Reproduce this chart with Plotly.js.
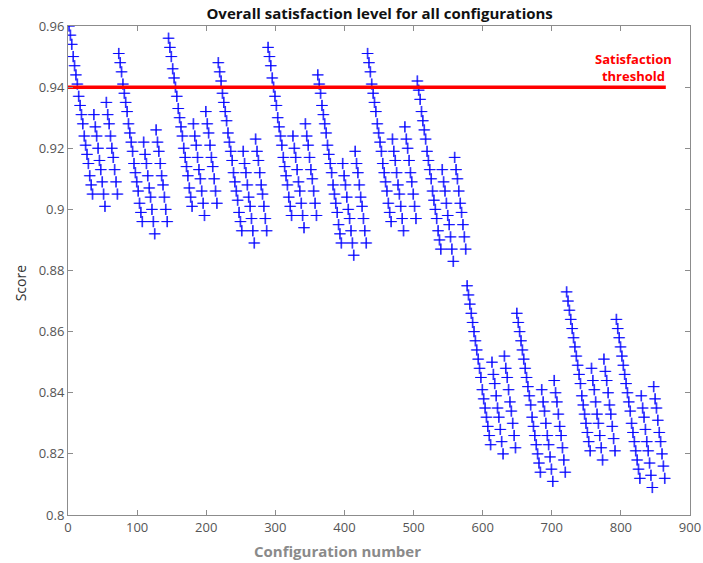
<!DOCTYPE html>
<html>
<head>
<meta charset="utf-8">
<script src="https://cdn.plot.ly/plotly-3.0.1.min.js"></script>
<style>html,body{margin:0;padding:0;background:#fff;}#chart{width:703px;height:563px;}</style>
</head>
<body>
<div id="chart"></div>
<script>
// Scores per group of 72 configurations
const group01 = [0.960,0.960,0.957,0.957,0.954,0.954,0.950,0.950,0.947,0.947,0.944,0.944,0.941,0.941,0.937,0.937,0.934,0.934,0.931,0.931,0.928,0.928,0.924,0.924,0.921,0.921,0.918,0.918,0.915,0.915,0.911,0.911,0.908,0.908,0.905,0.905,
 0.931,0.931,0.927,0.927,0.924,0.924,0.920,0.920,0.916,0.916,0.913,0.913,0.909,0.909,0.905,0.905,0.901,0.901,
 0.935,0.935,0.931,0.931,0.928,0.928,0.924,0.924,0.920,0.920,0.917,0.917,0.913,0.913,0.909,0.909,0.905,0.905];
const group02 = [0.951,0.951,0.948,0.948,0.945,0.945,0.941,0.941,0.938,0.938,0.935,0.935,0.932,0.932,0.928,0.928,0.925,0.925,0.922,0.922,0.919,0.919,0.915,0.915,0.912,0.912,0.909,0.909,0.906,0.906,0.902,0.902,0.899,0.899,0.896,0.896,
 0.922,0.922,0.918,0.918,0.915,0.915,0.911,0.911,0.907,0.907,0.904,0.904,0.900,0.900,0.896,0.896,0.892,0.892,
 0.926,0.926,0.922,0.922,0.919,0.919,0.915,0.915,0.911,0.911,0.908,0.908,0.904,0.904,0.900,0.900,0.896,0.896];
const group03 = [0.956,0.956,0.953,0.953,0.950,0.950,0.946,0.946,0.943,0.943,0.940,0.940,0.937,0.937,0.933,0.933,0.930,0.930,0.927,0.927,0.924,0.924,0.920,0.920,0.917,0.917,0.914,0.914,0.911,0.911,0.907,0.907,0.904,0.904,0.901,0.901,
 0.928,0.928,0.924,0.924,0.921,0.921,0.917,0.917,0.913,0.913,0.910,0.910,0.906,0.906,0.902,0.902,0.898,0.898,
 0.932,0.932,0.928,0.928,0.925,0.925,0.921,0.921,0.917,0.917,0.914,0.914,0.910,0.910,0.906,0.906,0.902,0.902];
const group04 = [0.948,0.948,0.945,0.945,0.942,0.942,0.938,0.938,0.935,0.935,0.932,0.932,0.929,0.929,0.925,0.925,0.922,0.922,0.919,0.919,0.916,0.916,0.912,0.912,0.909,0.909,0.906,0.906,0.903,0.903,0.899,0.899,0.896,0.896,0.893,0.893,
 0.919,0.919,0.915,0.915,0.912,0.912,0.908,0.908,0.904,0.904,0.901,0.901,0.897,0.897,0.893,0.893,0.889,0.889,
 0.923,0.923,0.919,0.919,0.916,0.916,0.912,0.912,0.908,0.908,0.905,0.905,0.901,0.901,0.897,0.897,0.893,0.893];
const group05 = [0.953,0.953,0.950,0.950,0.947,0.947,0.943,0.943,0.940,0.940,0.937,0.937,0.934,0.934,0.930,0.930,0.927,0.927,0.924,0.924,0.921,0.921,0.917,0.917,0.914,0.914,0.911,0.911,0.908,0.908,0.904,0.904,0.901,0.901,0.898,0.898,
 0.924,0.924,0.920,0.920,0.917,0.917,0.913,0.913,0.909,0.909,0.906,0.906,0.902,0.902,0.898,0.898,0.894,0.894,
 0.928,0.928,0.924,0.924,0.921,0.921,0.917,0.917,0.913,0.913,0.910,0.910,0.906,0.906,0.902,0.902,0.898,0.898];
const group06 = [0.944,0.944,0.941,0.941,0.938,0.938,0.934,0.934,0.931,0.931,0.928,0.928,0.925,0.925,0.921,0.921,0.918,0.918,0.915,0.915,0.912,0.912,0.908,0.908,0.905,0.905,0.902,0.902,0.899,0.899,0.895,0.895,0.892,0.892,0.889,0.889,
 0.915,0.915,0.911,0.911,0.908,0.908,0.904,0.904,0.900,0.900,0.897,0.897,0.893,0.893,0.889,0.889,0.885,0.885,
 0.919,0.919,0.915,0.915,0.912,0.912,0.908,0.908,0.904,0.904,0.901,0.901,0.897,0.897,0.893,0.893,0.889,0.889];
const group07 = [0.951,0.951,0.948,0.948,0.945,0.945,0.941,0.941,0.938,0.938,0.935,0.935,0.932,0.932,0.928,0.928,0.925,0.925,0.922,0.922,0.919,0.919,0.915,0.915,0.912,0.912,0.909,0.909,0.906,0.906,0.902,0.902,0.899,0.899,0.896,0.896,
 0.923,0.923,0.919,0.919,0.916,0.916,0.912,0.912,0.908,0.908,0.905,0.905,0.901,0.901,0.897,0.897,0.893,0.893,
 0.927,0.927,0.923,0.923,0.920,0.920,0.916,0.916,0.912,0.912,0.909,0.909,0.905,0.905,0.901,0.901,0.897,0.897];
const group08 = [0.942,0.942,0.939,0.939,0.936,0.936,0.932,0.932,0.929,0.929,0.926,0.926,0.923,0.923,0.919,0.919,0.916,0.916,0.913,0.913,0.910,0.910,0.906,0.906,0.903,0.903,0.900,0.900,0.897,0.897,0.893,0.893,0.890,0.890,0.887,0.887,
 0.913,0.913,0.909,0.909,0.906,0.906,0.902,0.902,0.898,0.898,0.895,0.895,0.891,0.891,0.887,0.887,0.883,0.883,
 0.917,0.917,0.913,0.913,0.910,0.910,0.906,0.906,0.902,0.902,0.899,0.899,0.895,0.895,0.891,0.891,0.887,0.887];
const group09 = [0.875,0.875,0.872,0.872,0.869,0.869,0.866,0.866,0.863,0.863,0.860,0.860,0.857,0.857,0.854,0.854,0.851,0.851,0.848,0.848,0.845,0.845,0.841,0.841,0.838,0.838,0.835,0.835,0.832,0.832,0.829,0.829,0.826,0.826,0.823,0.823,
 0.850,0.850,0.846,0.846,0.843,0.843,0.839,0.839,0.835,0.835,0.832,0.832,0.828,0.828,0.824,0.824,0.820,0.820,
 0.852,0.852,0.848,0.848,0.845,0.845,0.841,0.841,0.837,0.837,0.834,0.834,0.830,0.830,0.826,0.826,0.822,0.822];
const group10 = [0.866,0.866,0.863,0.863,0.860,0.860,0.857,0.857,0.854,0.854,0.851,0.851,0.848,0.848,0.845,0.845,0.842,0.842,0.839,0.839,0.836,0.836,0.832,0.832,0.829,0.829,0.826,0.826,0.823,0.823,0.820,0.820,0.817,0.817,0.814,0.814,
 0.841,0.841,0.837,0.837,0.834,0.834,0.830,0.830,0.826,0.826,0.823,0.823,0.819,0.819,0.815,0.815,0.811,0.811,
 0.844,0.844,0.840,0.840,0.837,0.837,0.833,0.833,0.829,0.829,0.826,0.826,0.822,0.822,0.818,0.818,0.814,0.814];
const group11 = [0.873,0.873,0.870,0.870,0.867,0.867,0.864,0.864,0.861,0.861,0.858,0.858,0.855,0.855,0.852,0.852,0.849,0.849,0.846,0.846,0.843,0.843,0.839,0.839,0.836,0.836,0.833,0.833,0.830,0.830,0.827,0.827,0.824,0.824,0.821,0.821,
 0.848,0.848,0.844,0.844,0.841,0.841,0.837,0.837,0.833,0.833,0.830,0.830,0.826,0.826,0.822,0.822,0.818,0.818,
 0.851,0.851,0.847,0.847,0.844,0.844,0.840,0.840,0.836,0.836,0.833,0.833,0.829,0.829,0.825,0.825,0.821,0.821];
const group12 = [0.864,0.864,0.861,0.861,0.858,0.858,0.855,0.855,0.852,0.852,0.849,0.849,0.846,0.846,0.843,0.843,0.840,0.840,0.837,0.837,0.834,0.834,0.830,0.830,0.827,0.827,0.824,0.824,0.821,0.821,0.818,0.818,0.815,0.815,0.812,0.812,
 0.839,0.839,0.835,0.835,0.832,0.832,0.828,0.828,0.824,0.824,0.821,0.821,0.817,0.817,0.813,0.813,0.809,0.809,
 0.842,0.842,0.838,0.838,0.835,0.835,0.831,0.831,0.827,0.827,0.824,0.824,0.820,0.820,0.816,0.816,0.812,0.812];

const thresholdX = [0, 865];
const thresholdY = [0.94, 0.94];
const thresholdLabel = "Satisfaction<br>threshold";
const xTicks = [0,100,200,300,400,500,600,700,800,900];
const yTicks = [0.8,0.82,0.84,0.86,0.88,0.9,0.92,0.94,0.96];

const scores = [].concat(group01,group02,group03,group04,group05,group06,group07,group08,group09,group10,group11,group12);
const configs = scores.map((_, i) => i + 1);

const font = "'Open Sans', 'DejaVu Sans', sans-serif";
const axisCommon = {
  showline: true, linecolor: '#8c8c8c', linewidth: 1, mirror: 'ticks',
  ticks: 'inside', ticklen: 5, tickcolor: '#8c8c8c', tickwidth: 1,
  showgrid: false, zeroline: false,
  tickfont: {family: font, size: 13, color: '#555'}
};

const data = [
  {x: configs, y: scores, type: 'scatter', mode: 'markers',
   marker: {symbol: 'cross-thin-open', size: 8, color: 'rgba(0,0,255,0.8)', line: {color: 'rgba(0,0,255,0.8)', width: 1}},
   hoverinfo: 'x+y', showlegend: false},
  {x: thresholdX, y: thresholdY, type: 'scatter', mode: 'lines',
   line: {color: '#ff0000', width: 3.5}, showlegend: false}
];

const layout = {
  width: 703, height: 563,
  margin: {l: 68, r: 13, t: 26, b: 48},
  paper_bgcolor: '#fff', plot_bgcolor: '#fff',
  showlegend: false,
  title: {text: '<b>Overall satisfaction level for all configurations</b>', x: 0.54, xanchor: 'center', y: 0.975, yanchor: 'middle',
          font: {family: font, size: 15, color: '#111'}},
  xaxis: Object.assign({}, axisCommon, {
    range: [0, 900], tickvals: xTicks, ticktext: xTicks.map(String)
  }),
  yaxis: Object.assign({}, axisCommon, {
    range: [0.8, 0.96], tickvals: yTicks, ticktext: yTicks.map(String)
  }),
  annotations: [
    {x: 818, y: 0.9464, xref: 'x', yref: 'y', text: '<b>' + thresholdLabel + '</b>', showarrow: false,
     font: {family: font, size: 13, color: '#ff0000'}, align: 'center'},
    {x: 0.434, y: -0.0736, xref: 'paper', yref: 'paper', xanchor: 'center', yanchor: 'middle', showarrow: false,
     text: '<b>Configuration number</b>', font: {family: font, size: 15, color: '#8a8a8a'}},
    {x: -0.077, y: 0.474, xref: 'paper', yref: 'paper', xanchor: 'center', yanchor: 'middle', showarrow: false,
     textangle: -90, text: 'Score', font: {family: font, size: 14, color: '#333'}}
  ]
};

Plotly.newPlot('chart', data, layout, {displayModeBar: false, staticPlot: true});
</script>
</body>
</html>
